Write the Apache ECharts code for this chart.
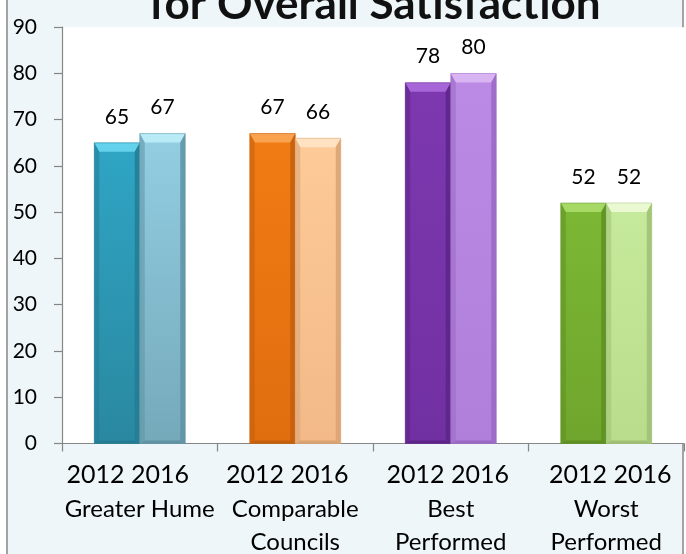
<!DOCTYPE html>
<html>
<head>
<meta charset="utf-8">
<script src="https://cdn.jsdelivr.net/npm/echarts@6/dist/echarts.min.js"></script>
<style>
  html, body { margin: 0; padding: 0; background: #ffffff; }
  #chart { width: 686px; height: 554px; }
</style>
</head>
<body>
<div id="chart"></div>
<script>
// Overall satisfaction index scores, 2012 vs 2016
const titleText = 'for Overall Satisfaction';
const categories = ['Greater Hume', 'Comparable\nCouncils', 'Best\nPerformed', 'Worst\nPerformed'];
const yearLabels = ['2012', '2016'];
const values2012 = [65, 67, 78, 52];
const values2016 = [67, 66, 80, 52];
const yMin = 0;
const yMax = 90;
const yStep = 10;

// Facet colours per group: [top facet, front top, front bottom, side]
const palette2012 = [
  ['#63d2ea', '#2fa5c5', '#2a88a0', '#227c94'],
  ['#f9a350', '#f17c14', '#e06d0f', '#c45f0c'],
  ['#a766d8', '#7d38af', '#7130a2', '#5c2488'],
  ['#a6d866', '#7cb834', '#6fa52c', '#5d8f23']
];
const palette2016 = [
  ['#b9ebf7', '#93cee2', '#74a9ba', '#5f93a4'],
  ['#fee2c2', '#fdca98', '#f3b988', '#d9a273'],
  ['#d8b4f3', '#bb8ae4', '#b07fd9', '#9a69c4'],
  ['#eaf9d2', '#c6ea9b', '#b9dc8c', '#9fbf74']
];

const FONT = 'Lato, "Open Sans", sans-serif';
const BAR_FRACTION = 0.2926;   // width of one bar relative to the category band
const yearShift = [-12, -8, -3, 4]; // horizontal nudge of the year row per group

function makeRenderer(side, palette) {
  return function (params, api) {
    const cat = api.value(0);
    const val = api.value(1);
    const base = api.coord([cat, 0]);
    const top = api.coord([cat, val]);
    const band = api.size([1, 0])[0];
    const w = band * BAR_FRACTION;
    const x = side === 0 ? base[0] - w : base[0];
    const y = top[1];
    const h = base[1] - top[1];
    const c = palette[cat];
    const s = 5, bt = Math.min(9, h), bb = 3;
    const grad = {
      type: 'linear', x: 0, y: 0, x2: 0, y2: 1,
      colorStops: [{ offset: 0, color: c[1] }, { offset: 1, color: c[2] }]
    };
    return {
      type: 'group',
      children: [
        { type: 'rect', shape: { x: x, y: y, width: w, height: h }, style: { fill: grad } },
        { type: 'polygon', shape: { points: [[x, y], [x + w, y], [x + w - s, y + bt], [x + s, y + bt]] }, style: { fill: c[0] } },
        { type: 'polygon', shape: { points: [[x, y], [x + s, y + bt], [x + s, y + h - bb], [x, y + h]] }, style: { fill: c[3], opacity: 0.55 } },
        { type: 'polygon', shape: { points: [[x + w, y], [x + w, y + h], [x + w - s, y + h - bb], [x + w - s, y + bt]] }, style: { fill: c[3], opacity: 0.85 } },
        { type: 'polygon', shape: { points: [[x, y + h], [x + s, y + h - bb], [x + w - s, y + h - bb], [x + w, y + h]] }, style: { fill: c[3] } },
        { type: 'rect', shape: { x: x, y: y, width: w, height: h }, style: { fill: 'none', stroke: c[3], lineWidth: 0.8, opacity: 0.6 } },
        {
          type: 'text',
          style: {
            text: String(val), x: x + w / 2, y: y - 26,
            align: 'center', verticalAlign: 'middle',
            fill: '#000', fontSize: 21, fontFamily: FONT
          }
        }
      ]
    };
  };
}

const yearRich = {};
yearShift.forEach(function (d, i) {
  yearRich['y' + i] = {
    fontSize: 25, fontFamily: FONT, color: '#000', lineHeight: 36,
    padding: d < 0 ? [0, -2 * d, 0, 0] : [0, 0, 0, 2 * d]
  };
});
yearRich.n = { fontSize: 24, fontFamily: FONT, color: '#000', lineHeight: 33 };

const chart = echarts.init(document.getElementById('chart'), null, { renderer: 'canvas' });
chart.setOption({
  backgroundColor: '#ffffff',
  animation: false,
  graphic: [
    {
      type: 'rect', z: -100, silent: true,
      shape: { x: 7, y: -5, width: 676, height: 570 },
      style: { fill: '#eef6f9', stroke: '#868686', lineWidth: 1.5 }
    },
    {
      type: 'text', z: 100, silent: true,
      style: {
        text: titleText, x: 375, y: 5,
        align: 'center', verticalAlign: 'middle',
        fill: '#111', fontSize: 44, fontWeight: 'bold', fontFamily: FONT
      }
    }
  ],
  grid: {
    left: 62, right: 2, top: 27.2, bottom: 108.3,
    show: true, backgroundColor: '#ffffff', borderWidth: 0
  },
  xAxis: {
    type: 'category',
    data: categories,
    axisLine: { lineStyle: { color: '#868686', width: 1.2 } },
    axisTick: { show: true, length: 8, lineStyle: { color: '#868686', width: 1.2 } },
    axisLabel: {
      margin: 13,
      interval: 0,
      formatter: function (value, index) {
        const yr = '{y' + index + '|' + yearLabels.join(' ') + '}';
        const names = value.split('\n').map(function (l) { return '{n|' + l + '}'; }).join('\n');
        return yr + '\n' + names;
      },
      rich: yearRich
    }
  },
  yAxis: {
    type: 'value',
    min: yMin, max: yMax, interval: yStep,
    axisLine: { show: true, lineStyle: { color: '#868686', width: 1.2 } },
    axisTick: { show: true, length: 8, lineStyle: { color: '#868686', width: 1.2 } },
    splitLine: { show: false },
    axisLabel: { margin: 25, fontSize: 21, fontFamily: FONT, color: '#000' }
  },
  series: [
    {
      name: yearLabels[0], type: 'custom',
      data: values2012.map(function (v, i) { return [i, v]; }),
      encode: { x: 0, y: 1 },
      renderItem: makeRenderer(0, palette2012),
      clip: false
    },
    {
      name: yearLabels[1], type: 'custom',
      data: values2016.map(function (v, i) { return [i, v]; }),
      encode: { x: 0, y: 1 },
      renderItem: makeRenderer(1, palette2016),
      clip: false
    }
  ]
});
</script>
</body>
</html>
